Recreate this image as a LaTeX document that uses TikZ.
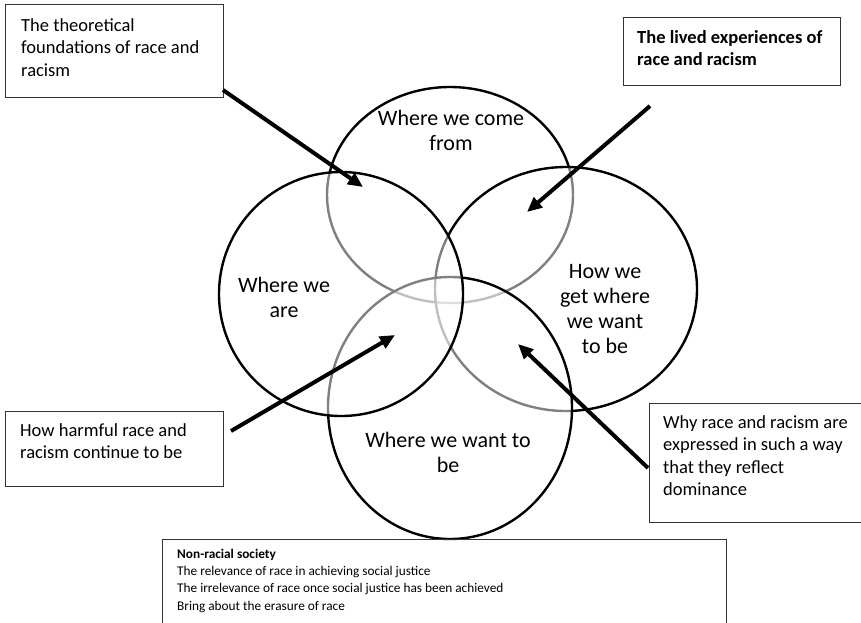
\documentclass[tikz,border=0pt]{standalone}
\usepackage{fontspec}
\setmainfont{Carlito}
\usetikzlibrary{shapes.geometric,arrows.meta}

\tikzset{
  ring/.style={draw=black, line width=2.4pt, fill=white, fill opacity=0.5,
               ellipse, inner sep=0pt},
  frame/.style={draw=black!80, line width=0.9pt, rectangle, inner sep=0pt,
                anchor=north west},
  boxtext/.style={anchor=north west, inner sep=0pt, align=left,
                  font=\fontsize{18.5}{22.5}\selectfont},
  notetext/.style={anchor=north west, inner sep=0pt, align=left,
                   font=\fontsize{13.3}{17.3}\selectfont},
  lbl/.style={anchor=north, inner sep=0pt, align=center,
              font=\fontsize{22}{25}\selectfont},
  pointer/.style={line width=4pt, -{Triangle[length=15pt,width=13pt]}},
}

\begin{document}
\begin{tikzpicture}[x=1pt,y=-1pt]
\useasboundingbox (0,0) rectangle (861,622);

% the four overlapping circles, back to front
\node[ring, minimum width=246pt, minimum height=216pt] (come) at (450,195) {};
\node[ring, minimum width=262pt, minimum height=244pt] (get)  at (566,289) {};
\node[ring, minimum width=244pt, minimum height=262pt] (want) at (450,408) {};
\node[ring, minimum width=244pt, minimum height=244pt] (are)  at (341,294) {};

% circle labels
\node[lbl] (comelbl) at (451,108) {\strut Where we come\\from};
\node[lbl] (arelbl)  at (284,275) {\strut Where we\\are};
\node[lbl] (getlbl)  at (605,261) {\strut How we\\get where\\we want\\to be};
\node[lbl] (wantlbl) at (448,430) {\strut Where we want to\\be};

% text boxes
\node[frame, minimum width=218pt, minimum height=93pt] (theory) at (5,4) {};
\node[boxtext] (theorytext) at (21,15.25)
  {\strut The theoretical\\foundations of race and\\racism};

\node[frame, minimum width=217pt, minimum height=68pt] (lived) at (623,17) {};
\node[boxtext, font=\fontsize{18.5}{22.5}\selectfont\bfseries] (livedtext) at (637,27.25)
  {\strut The lived experiences of\\race and racism};

\node[frame, minimum width=218pt, minimum height=75pt] (harm) at (5,411) {};
\node[boxtext] (harmtext) at (20,420.25)
  {\strut How harmful race and\\racism continue to be};

\node[frame, minimum width=225pt, minimum height=119pt] (why) at (649,403) {};
\node[boxtext] (whytext) at (663,412.25)
  {\strut Why race and racism are\\expressed in such a way\\that they reflect\\dominance};

\node[frame, minimum width=564pt, minimum height=100pt] (note) at (162,539) {};
\node[notetext] (notetext) at (177,545.9)
  {\strut\textbf{Non-racial society}\\
   The relevance of race in achieving social justice\\
   The irrelevance of race once social justice has been achieved\\
   Bring about the erasure of race};

% pointer ends
\coordinate (p1s) at (223,90);   \coordinate (p1e) at (363,187);
\coordinate (p2s) at (650,106);  \coordinate (p2e) at (527,212);
\coordinate (p3s) at (231,431);  \coordinate (p3e) at (395,335);
\coordinate (p4s) at (648,468);  \coordinate (p4e) at (518,344);

\draw[pointer] (p1s) -- (p1e);
\draw[pointer] (p2s) -- (p2e);
\draw[pointer] (p3s) -- (p3e);
\draw[pointer] (p4s) -- (p4e);
\end{tikzpicture}
\end{document}
